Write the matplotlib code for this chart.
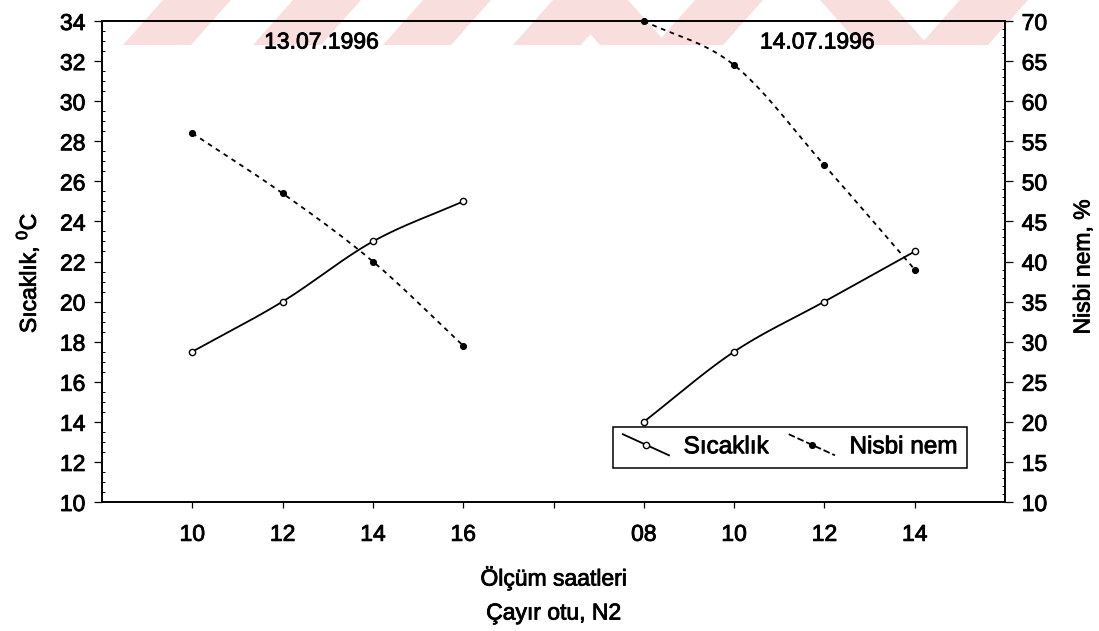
import numpy as np
import matplotlib
matplotlib.use("Agg")
import matplotlib.pyplot as plt
import matplotlib.patheffects as pe
from matplotlib.lines import Line2D
from matplotlib.legend_handler import HandlerBase
from matplotlib.patches import Polygon

plt.rcParams["font.family"] = ["Liberation Sans", "DejaVu Sans"]
plt.rcParams["mathtext.fontset"] = "custom"
plt.rcParams["mathtext.rm"] = "Liberation Sans"

# Measurement hours for the two days
hours_day1 = ["10", "12", "14", "16"]
hours_day2 = ["08", "10", "12", "14"]
day_labels = ["13.07.1996", "14.07.1996"]

# Air temperature (°C)
temp_day1 = [17.5, 20.0, 23.0, 25.0]
temp_day2 = [14.0, 17.5, 20.0, 22.5]

# Relative humidity (%)
rh_day1 = [56.0, 48.5, 40.0, 29.5]
rh_day2 = [70.0, 64.5, 52.0, 39.0]


def smooth_curve(x, y, n=60):
    """Cubic Hermite curve through the points (Catmull-Rom tangents)."""
    x = np.asarray(x, float)
    y = np.asarray(y, float)
    k = len(x)
    m = np.empty(k)
    m[0] = (y[1] - y[0]) / (x[1] - x[0])
    m[-1] = (y[-1] - y[-2]) / (x[-1] - x[-2])
    for i in range(1, k - 1):
        m[i] = (y[i + 1] - y[i - 1]) / (x[i + 1] - x[i - 1])
    xs_all, ys_all = [], []
    for i in range(k - 1):
        h = x[i + 1] - x[i]
        t = np.linspace(0, 1, n)
        h00 = 2 * t**3 - 3 * t**2 + 1
        h10 = t**3 - 2 * t**2 + t
        h01 = -2 * t**3 + 3 * t**2
        h11 = t**3 - t**2
        xs_all.append(x[i] + t * h)
        ys_all.append(h00 * y[i] + h10 * h * m[i] + h01 * y[i + 1] + h11 * h * m[i + 1])
    return np.concatenate(xs_all), np.concatenate(ys_all)


class SlantHandler(HandlerBase):
    """Legend key drawn as a slanted segment with a marker on it."""

    def create_artists(self, legend, orig_handle, xdescent, ydescent,
                       width, height, fontsize, trans):
        x0, x1 = -xdescent, -xdescent + width
        yc = -ydescent + height / 2
        y0, y1 = yc + height * 0.62, yc - height * 0.62
        seg = Line2D([x0, x1], [y0, y1],
                     color=orig_handle.get_color(),
                     linestyle=orig_handle.get_linestyle(),
                     linewidth=orig_handle.get_linewidth())
        xm = x0 + 0.5 * (x1 - x0)
        ym = y0 + 0.5 * (y1 - y0)
        mk = Line2D([xm], [ym], linestyle="none",
                    marker=orig_handle.get_marker(),
                    markersize=orig_handle.get_markersize(),
                    markerfacecolor=orig_handle.get_markerfacecolor(),
                    markeredgecolor=orig_handle.get_markeredgecolor(),
                    markeredgewidth=orig_handle.get_markeredgewidth())
        for a in (seg, mk):
            a.set_transform(trans)
        return [seg, mk]


W, H = 1099, 631
fig = plt.figure(figsize=(W / 100, H / 100), dpi=100)

# slightly heavier strokes for all lettering
heavy = [pe.withStroke(linewidth=0.6, foreground="black")]


def band(pts, color):
    fig.patches.append(Polygon([(px / W, 1 - py / H) for px, py in pts],
                               closed=True, transform=fig.transFigure,
                               facecolor=color, edgecolor="none", zorder=-1))


# pale stripes printed along the top of the page
stripe = "#f9dede"
for xb in (123, 253, 383, 513):
    band([(xb, 45), (xb + 68, 45), (xb + 108, 0), (xb + 40, 0)], stripe)
for xb in (600, 860):
    band([(xb, 45), (xb + 68, 45), (xb + 28, 0), (xb - 40, 0)], stripe)
for xb in (655, 920):
    band([(xb, 45), (xb + 68, 45), (xb + 108, 0), (xb + 40, 0)], stripe)

left_px, right_px, top_px, bottom_px = 102, 1005, 21, 502
ax = fig.add_axes([left_px / W, 1 - bottom_px / H,
                   (right_px - left_px) / W, (bottom_px - top_px) / H])
ax.set_facecolor("none")
ax2 = ax.twinx()
ax2.set_facecolor("none")

pos1 = np.arange(len(hours_day1)) + 1
pos2 = np.arange(len(hours_day2)) + 2 + len(hours_day1)

lw = 1.3
temp_style = dict(color="black", linestyle="-", linewidth=lw)
temp_marker = dict(linestyle="none", marker="o", markersize=4.5,
                   markerfacecolor="white", markeredgecolor="black",
                   markeredgewidth=1.0)
rh_style = dict(color="black", linestyle=(0, (2.6, 2.6)), linewidth=lw)
rh_marker = dict(linestyle="none", marker="o", markersize=4.3,
                 markerfacecolor="black", markeredgecolor="black",
                 markeredgewidth=0.8)

for pos, vals in ((pos1, temp_day1), (pos2, temp_day2)):
    xs, ys = smooth_curve(pos, vals)
    ax.plot(xs, ys, **temp_style)
    ax.plot(pos, vals, clip_on=False, zorder=4, **temp_marker)

for pos, vals in ((pos1, rh_day1), (pos2, rh_day2)):
    xs, ys = smooth_curve(pos, vals)
    ax2.plot(xs, ys, **rh_style)
    ax2.plot(pos, vals, clip_on=False, zorder=4, **rh_marker)

ax.set_xlim(0, len(hours_day1) + len(hours_day2) + 2)
ax.set_ylim(10, 34)
ax2.set_ylim(10, 70)

ax.set_xticks(list(pos1) + [len(hours_day1) + 1] + list(pos2))
ax.set_xticklabels(hours_day1 + [""] + hours_day2)
ax.set_yticks(np.arange(10, 35, 2))
ax.set_yticks(np.arange(10, 34.01, 0.5), minor=True)
ax2.set_yticks(np.arange(10, 71, 5))
ax2.set_yticks(np.arange(10, 70.01, 1), minor=True)

fs = 16.5
ax.tick_params(axis="x", which="major", direction="out", length=4,
               width=0.9, labelsize=fs, pad=11)
ax.tick_params(axis="y", which="major", direction="out", length=6,
               width=0.9, labelsize=fs, pad=6)
ax.tick_params(axis="y", which="minor", direction="in", length=2.5, width=0.7)
ax2.tick_params(axis="y", which="major", direction="out", length=6,
                width=0.9, labelsize=fs, pad=6)
ax2.tick_params(axis="y", which="minor", direction="in", length=2.5, width=0.7)

for a in (ax, ax2):
    for s in a.spines.values():
        s.set_linewidth(1.2)
    for lab in a.get_xticklabels() + a.get_yticklabels():
        lab.set_path_effects(heavy)

# axis titles
fig.text(27 / W, 1 - 273 / H, "Sıcaklık, $^{0}$C", rotation=90,
         ha="center", va="center", fontsize=fs, path_effects=heavy)
fig.text(1083 / W, 1 - 267 / H, "Nisbi nem, %", rotation=90,
         ha="center", va="center", fontsize=fs, path_effects=heavy)

ax.text(2.43, 32.95, day_labels[0], ha="center", va="center", fontsize=fs,
        path_effects=heavy)
ax.text(7.92, 32.95, day_labels[1], ha="center", va="center", fontsize=fs,
        path_effects=heavy)

cx = (left_px + right_px) / 2 / W
fig.text(cx, 1 - 578 / H, "Ölçüm saatleri", ha="center", va="center",
         fontsize=fs, path_effects=heavy)
fig.text(cx, 1 - 613 / H, "Çayır otu, N2", ha="center", va="center",
         fontsize=fs, path_effects=heavy)

h_temp = Line2D([], [], **{**temp_style, **{k: v for k, v in temp_marker.items() if k != "linestyle"}})
h_rh = Line2D([], [], **{**rh_style, **{k: v for k, v in rh_marker.items() if k != "linestyle"}})
leg = ax.legend([h_temp, h_rh], ["Sıcaklık", "Nisbi nem"], ncol=2,
                loc="lower left", bbox_to_anchor=(0.566, 0.0707),
                borderaxespad=0,
                handler_map={Line2D: SlantHandler()},
                fontsize=17.5, frameon=True, fancybox=False, shadow=False,
                edgecolor="black", framealpha=1, handlelength=1.9,
                handletextpad=0.6, columnspacing=0.85, borderpad=0.4)
leg.get_frame().set_linewidth(1.1)
for t in leg.get_texts():
    t.set_path_effects(heavy)

fig.savefig("out.png", dpi=100)
